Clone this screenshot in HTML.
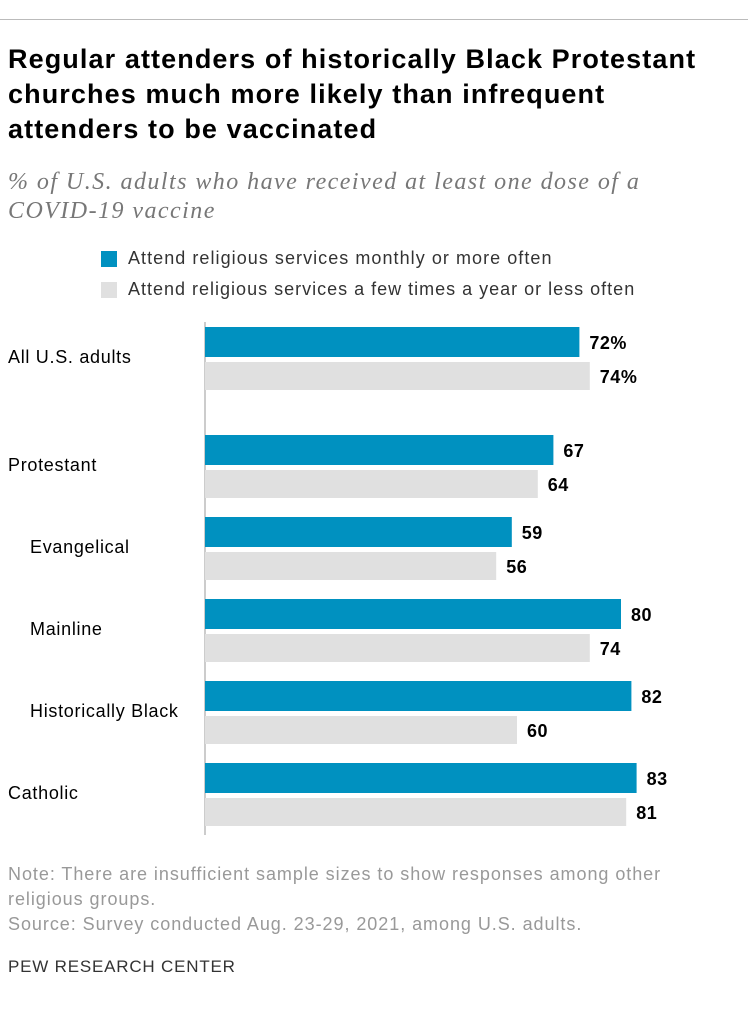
<!DOCTYPE html>
<html><head><meta charset="utf-8"><style>
body{margin:0;background:#fff;width:748px;height:1024px;overflow:hidden;font-family:"Liberation Sans",sans-serif;position:relative}
.t{position:absolute;white-space:nowrap}
</style></head><body>
<div class="t" style="left:0;top:19px;width:748px;height:1px;background:#bbb"></div>
<div class="t" style="left:8px;top:42px;font-size:27px;font-weight:bold;line-height:35px;color:#000;letter-spacing:1.1px">Regular attenders of historically Black Protestant<br>churches much more likely than infrequent<br>attenders to be vaccinated</div>
<div class="t" style="left:8px;top:168px;font-family:'Liberation Serif',serif;font-style:italic;font-size:24px;line-height:29px;color:#777;letter-spacing:1.45px">% of U.S. adults who have received at least one dose of a<br>COVID-19 vaccine</div>
<div class="t" style="left:101px;top:251px;width:16px;height:16px;background:#0091c0"></div>
<div class="t" style="left:128px;top:248px;font-size:18px;color:#333;letter-spacing:1.05px">Attend religious services monthly or more often</div>
<div class="t" style="left:101px;top:282px;width:16px;height:16px;background:#e0e0e0"></div>
<div class="t" style="left:128px;top:279px;font-size:18px;color:#333;letter-spacing:1px">Attend religious services a few times a year or less often</div>
<svg id="chart" style="position:absolute;left:0;top:0" width="748" height="1024"></svg>
<div class="t" style="left:8px;top:862px;font-size:18px;line-height:25px;color:#999;letter-spacing:0.95px">Note: There are insufficient sample sizes to show responses among other<br>religious groups.<br>Source: Survey conducted Aug. 23-29, 2021, among U.S. adults.</div>
<div class="t" style="left:8px;top:957px;font-size:17px;color:#333;letter-spacing:0.8px">PEW RESEARCH CENTER</div>
<script>
const categories=["All U.S. adults","Protestant","Evangelical","Mainline","Historically Black","Catholic"];
const monthly=[72,67,59,80,82,83];
const fewTimes=[74,64,56,74,60,81];
const monthlyLabels=["72%","67","59","80","82","83"];
const fewLabels=["74%","64","56","74","60","81"];
const indent=[0,0,1,1,1,0];
const groupTops=[327,435,517,599,681,763];
const svg=document.getElementById('chart');
const NS="http://www.w3.org/2000/svg";
const x0=205, k=5.2, bh=30;
function xs(v){return x0+v*k;}
function mk(tag,attrs){const e=document.createElementNS(NS,tag);for(const a in attrs)e.setAttribute(a,attrs[a]);svg.appendChild(e);return e;}
const ax=mk('line',{x1:x0,x2:x0,y1:322,y2:835,stroke:'#999','stroke-width':1});


categories.forEach((c,i)=>{
  const y=groupTops[i];
  const b1=mk('rect',{x:x0,y:y,width:xs(monthly[i])-x0,height:bh,fill:'#0091c0'});
  
  
  const b2=mk('rect',{x:x0,y:y+35,width:xs(fewTimes[i])-x0,height:bh-2,fill:'#e0e0e0'});
  
  
  const t1=mk('text',{x:xs(monthly[i])+10,y:y+22,'font-size':18,'font-weight':'bold','font-family':'Liberation Sans,sans-serif',fill:'#000','letter-spacing':0.5});
  t1.textContent=monthlyLabels[i];
  
  
  const t2=mk('text',{x:xs(fewTimes[i])+10,y:y+56,'font-size':18,'font-weight':'bold','font-family':'Liberation Sans,sans-serif',fill:'#000','letter-spacing':0.5});
  t2.textContent=fewLabels[i];
  
  
  const cl=mk('text',{x:indent[i]?30:8,y:y+36,'font-size':18,'font-family':'Liberation Sans,sans-serif',fill:'#000','letter-spacing':0.7});
  cl.textContent=c;
  
  
});
</script>
</body></html>
